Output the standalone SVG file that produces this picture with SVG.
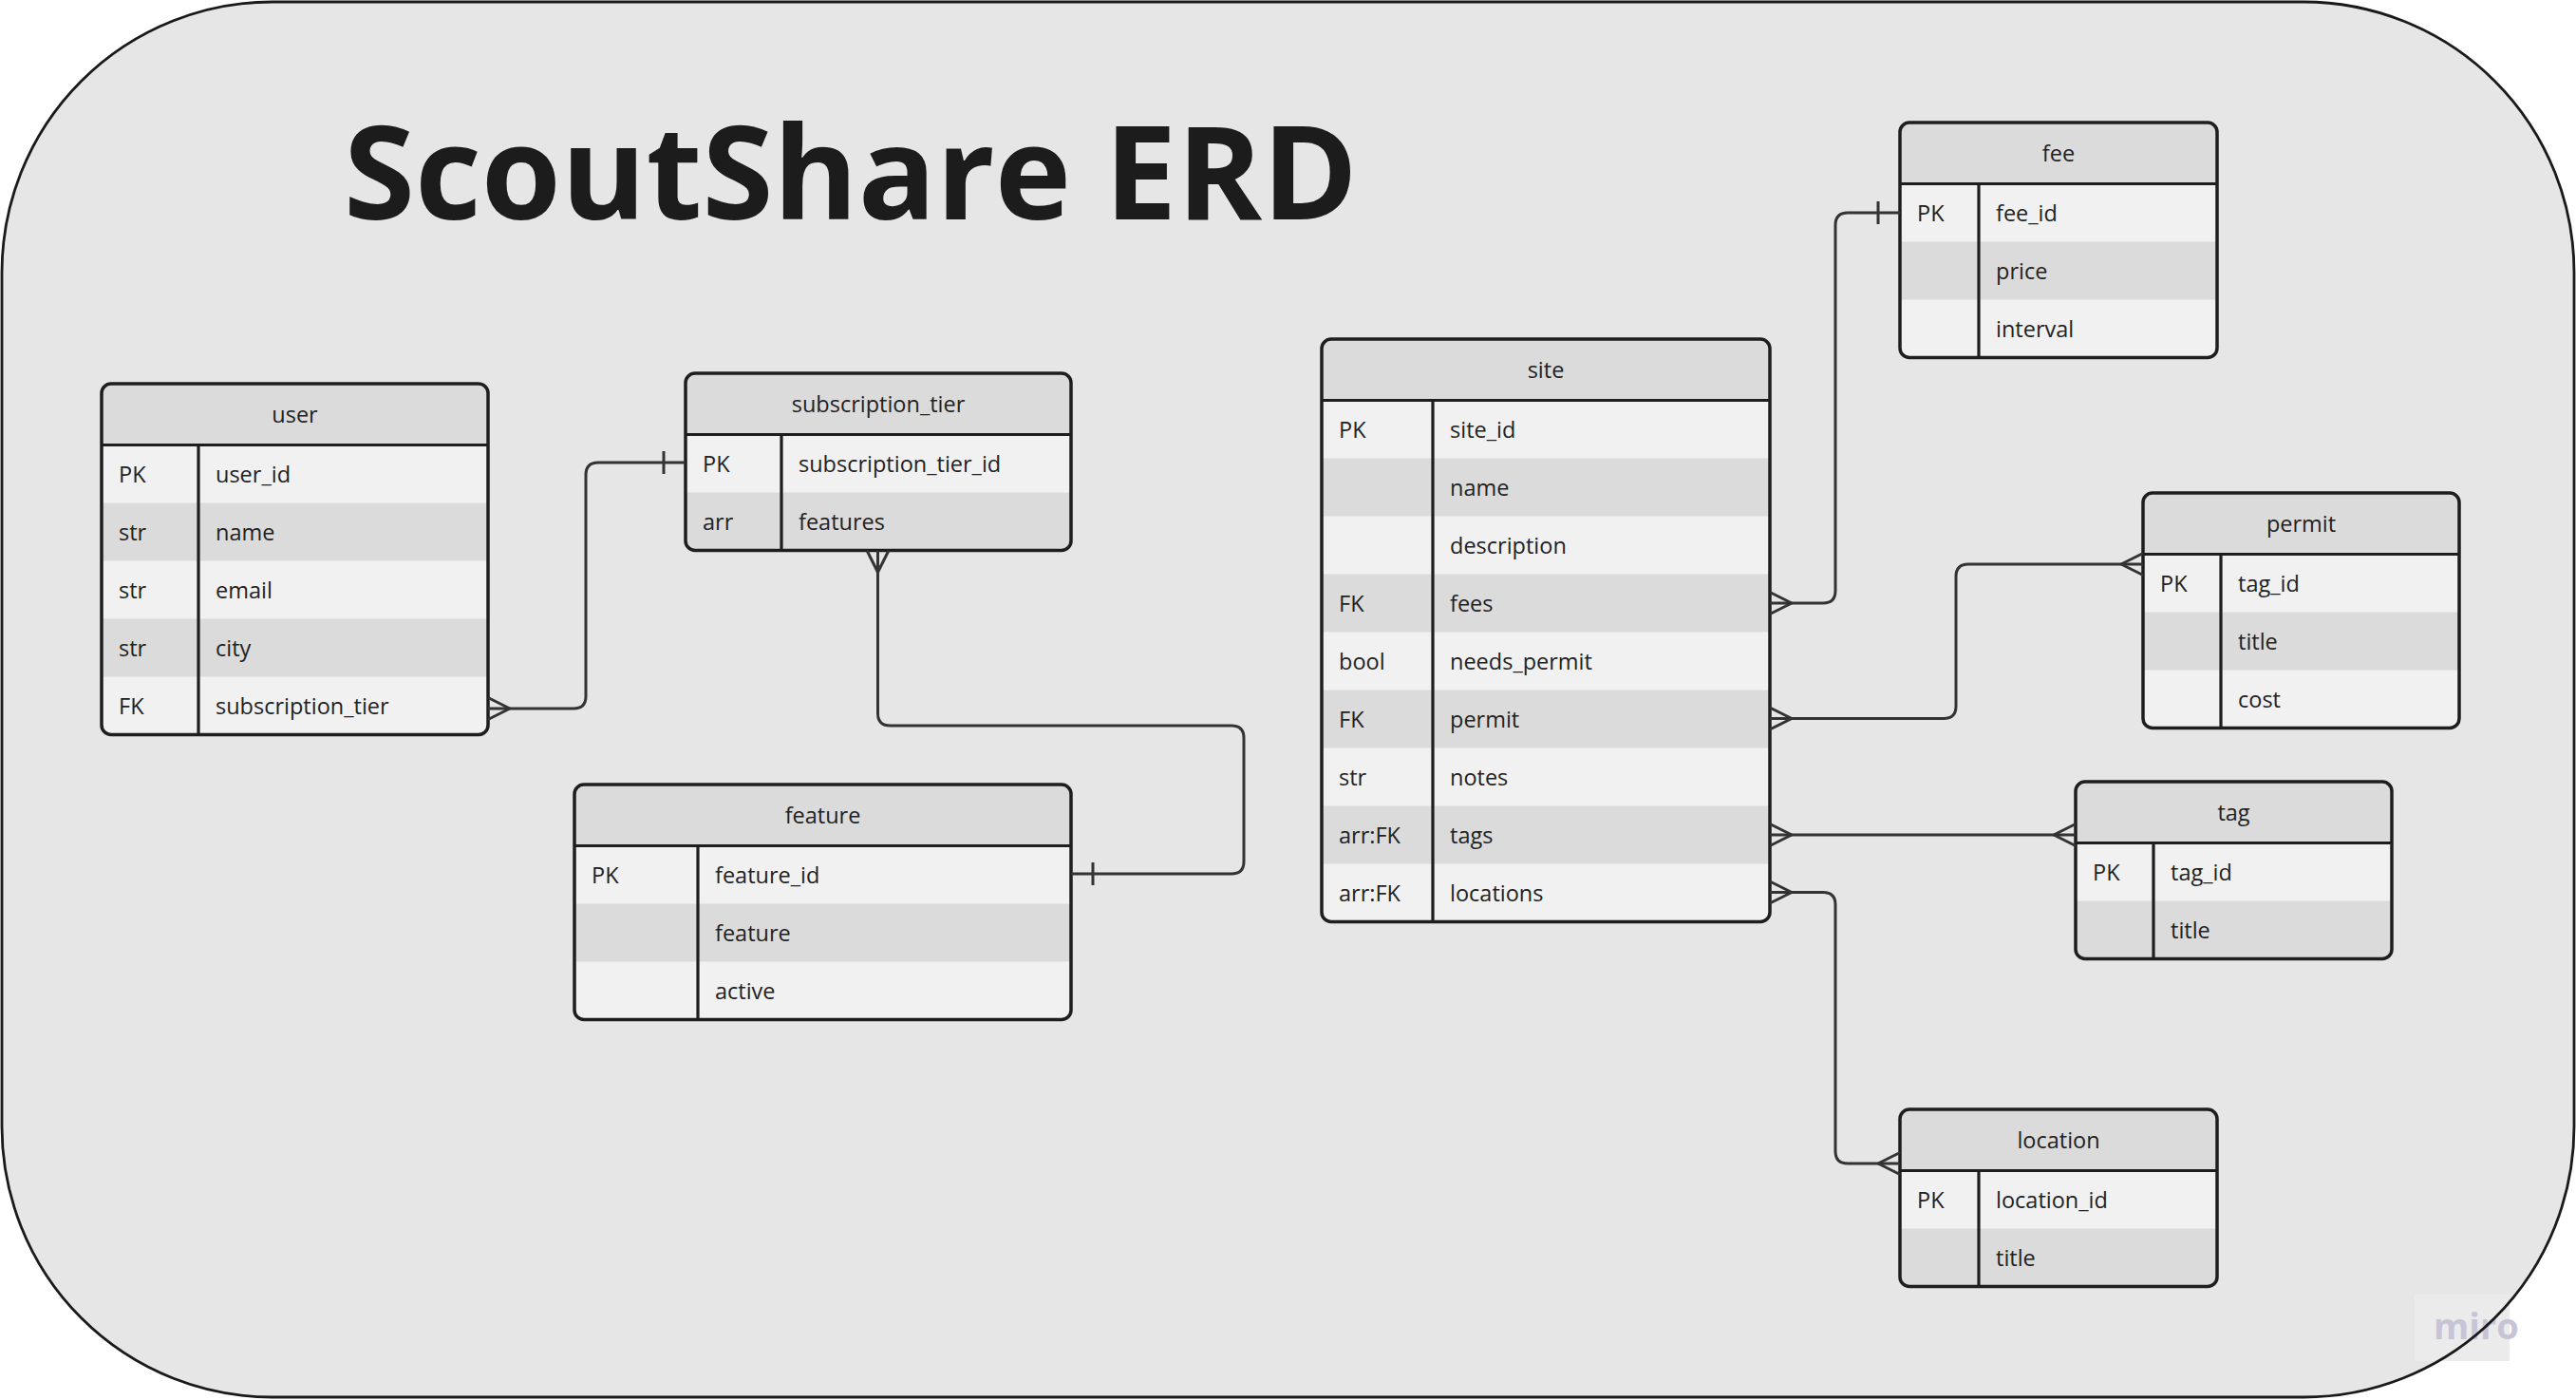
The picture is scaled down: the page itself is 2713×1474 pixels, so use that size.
<svg xmlns="http://www.w3.org/2000/svg" width="2713" height="1474" viewBox="0 0 2713 1474">
<style>
.lt{fill:#f1f1f1}
.hd,.dk{fill:#dbdbdb}
.ln{stroke:#1e1e1e;stroke-width:3.2;fill:none}
.edge{stroke:#1e1e1e;stroke-width:3.5;fill:none}
text{font-family:"Open Sans","DejaVu Sans",sans-serif;font-size:23.5px;fill:#222}
.h{text-anchor:middle}
.title{font-size:136px;font-weight:700;fill:#1c1c1c}
.conn path{stroke:#333;stroke-width:3;fill:none;stroke-linejoin:round}
</style>
<defs>
<marker id="many" markerUnits="userSpaceOnUse" orient="auto-start-reverse" viewBox="-30 -30 60 60" markerWidth="60" markerHeight="60" refX="0" refY="0" overflow="visible">
<path d="M-23,0 L0,-11.5 M-23,0 L0,11.5" fill="none" stroke="#333" stroke-width="3"/>
</marker>
<marker id="one" markerUnits="userSpaceOnUse" orient="auto-start-reverse" viewBox="-30 -30 60 60" markerWidth="60" markerHeight="60" refX="0" refY="0" overflow="visible">
<path d="M-23,-12 L-23,12" fill="none" stroke="#333" stroke-width="3"/>
</marker>
</defs>

<g id="frame">
<rect x="2" y="2" width="2709" height="1469" rx="285" ry="285" fill="#e6e6e6"/>
<rect x="2543" y="1363" width="100" height="70" fill="#ebebeb"/>
<text x="2563" y="1410" style="font-size:38px;font-weight:700;fill:#c6c4d6">miro</text>
<rect x="2" y="2" width="2709" height="1469" rx="285" ry="285" fill="none" stroke="#1a1a1a" stroke-width="2.8"/>
</g>

<text id="title" class="title" x="362" y="231">ScoutShare ERD</text>

<g id="user">
<rect class="lt" x="107" y="404" width="407" height="369.5" rx="10"/>
<path class="hd" d="M107,414 a10,10 0 0 1 10,-10 H504 a10,10 0 0 1 10,10 V468.5 H107 Z"/>
<rect class="dk" x="107" y="529.5" width="407" height="61"/>
<rect class="dk" x="107" y="651.5" width="407" height="61"/>
<line class="ln" x1="107" y1="468.5" x2="514" y2="468.5"/>
<line class="ln" x1="209" y1="468.5" x2="209" y2="773.5"/>
<rect class="edge" x="107" y="404" width="407" height="369.5" rx="10"/>
<text class="h" x="310.5" y="444.5">user</text>
<text x="125" y="507.5">PK</text><text x="227" y="507.5">user_id</text>
<text x="125" y="568.5">str</text><text x="227" y="568.5">name</text>
<text x="125" y="629.5">str</text><text x="227" y="629.5">email</text>
<text x="125" y="690.5">str</text><text x="227" y="690.5">city</text>
<text x="125" y="751.5">FK</text><text x="227" y="751.5">subscription_tier</text>
</g>

<g id="subscription_tier">
<rect class="lt" x="722" y="393" width="406" height="186.5" rx="10"/>
<path class="hd" d="M722,403 a10,10 0 0 1 10,-10 H1118 a10,10 0 0 1 10,10 V457.5 H722 Z"/>
<path class="dk" d="M722,518.5 H1128 V569.5 a10,10 0 0 1 -10,10 H732 a10,10 0 0 1 -10,-10 Z"/>
<line class="ln" x1="722" y1="457.5" x2="1128" y2="457.5"/>
<line class="ln" x1="823" y1="457.5" x2="823" y2="579.5"/>
<rect class="edge" x="722" y="393" width="406" height="186.5" rx="10"/>
<text class="h" x="925" y="433.5">subscription_tier</text>
<text x="740" y="496.5">PK</text><text x="841" y="496.5">subscription_tier_id</text>
<text x="740" y="557.5">arr</text><text x="841" y="557.5">features</text>
</g>

<g id="feature">
<rect class="lt" x="605" y="826" width="523" height="247.5" rx="10"/>
<path class="hd" d="M605,836 a10,10 0 0 1 10,-10 H1118 a10,10 0 0 1 10,10 V890.5 H605 Z"/>
<rect class="dk" x="605" y="951.5" width="523" height="61"/>
<line class="ln" x1="605" y1="890.5" x2="1128" y2="890.5"/>
<line class="ln" x1="735" y1="890.5" x2="735" y2="1073.5"/>
<rect class="edge" x="605" y="826" width="523" height="247.5" rx="10"/>
<text class="h" x="866.5" y="866.5">feature</text>
<text x="623" y="929.5">PK</text><text x="753" y="929.5">feature_id</text>
<text x="753" y="990.5">feature</text>
<text x="753" y="1051.5">active</text>
</g>

<g id="site">
<rect class="lt" x="1392" y="357" width="472" height="613.5" rx="10"/>
<path class="hd" d="M1392,367 a10,10 0 0 1 10,-10 H1854 a10,10 0 0 1 10,10 V421.5 H1392 Z"/>
<rect class="dk" x="1392" y="482.5" width="472" height="61"/>
<rect class="dk" x="1392" y="604.5" width="472" height="61"/>
<rect class="dk" x="1392" y="726.5" width="472" height="61"/>
<rect class="dk" x="1392" y="848.5" width="472" height="61"/>
<line class="ln" x1="1392" y1="421.5" x2="1864" y2="421.5"/>
<line class="ln" x1="1509" y1="421.5" x2="1509" y2="970.5"/>
<rect class="edge" x="1392" y="357" width="472" height="613.5" rx="10"/>
<text class="h" x="1628" y="397.5">site</text>
<text x="1410" y="460.5">PK</text><text x="1527" y="460.5">site_id</text>
<text x="1527" y="521.5">name</text>
<text x="1527" y="582.5">description</text>
<text x="1410" y="643.5">FK</text><text x="1527" y="643.5">fees</text>
<text x="1410" y="704.5">bool</text><text x="1527" y="704.5">needs_permit</text>
<text x="1410" y="765.5">FK</text><text x="1527" y="765.5">permit</text>
<text x="1410" y="826.5">str</text><text x="1527" y="826.5">notes</text>
<text x="1410" y="887.5">arr:FK</text><text x="1527" y="887.5">tags</text>
<text x="1410" y="948.5">arr:FK</text><text x="1527" y="948.5">locations</text>
</g>

<g id="fee">
<rect class="lt" x="2001" y="129" width="334" height="247.5" rx="10"/>
<path class="hd" d="M2001,139 a10,10 0 0 1 10,-10 H2325 a10,10 0 0 1 10,10 V193.5 H2001 Z"/>
<rect class="dk" x="2001" y="254.5" width="334" height="61"/>
<line class="ln" x1="2001" y1="193.5" x2="2335" y2="193.5"/>
<line class="ln" x1="2084" y1="193.5" x2="2084" y2="376.5"/>
<rect class="edge" x="2001" y="129" width="334" height="247.5" rx="10"/>
<text class="h" x="2168" y="169.5">fee</text>
<text x="2019" y="232.5">PK</text><text x="2102" y="232.5">fee_id</text>
<text x="2102" y="293.5">price</text>
<text x="2102" y="354.5">interval</text>
</g>

<g id="permit">
<rect class="lt" x="2257" y="519" width="333" height="247.5" rx="10"/>
<path class="hd" d="M2257,529 a10,10 0 0 1 10,-10 H2580 a10,10 0 0 1 10,10 V583.5 H2257 Z"/>
<rect class="dk" x="2257" y="644.5" width="333" height="61"/>
<line class="ln" x1="2257" y1="583.5" x2="2590" y2="583.5"/>
<line class="ln" x1="2339" y1="583.5" x2="2339" y2="766.5"/>
<rect class="edge" x="2257" y="519" width="333" height="247.5" rx="10"/>
<text class="h" x="2423.5" y="559.5">permit</text>
<text x="2275" y="622.5">PK</text><text x="2357" y="622.5">tag_id</text>
<text x="2357" y="683.5">title</text>
<text x="2357" y="744.5">cost</text>
</g>

<g id="tag">
<rect class="lt" x="2186" y="823" width="333" height="186.5" rx="10"/>
<path class="hd" d="M2186,833 a10,10 0 0 1 10,-10 H2509 a10,10 0 0 1 10,10 V887.5 H2186 Z"/>
<path class="dk" d="M2186,948.5 H2519 V999.5 a10,10 0 0 1 -10,10 H2196 a10,10 0 0 1 -10,-10 Z"/>
<line class="ln" x1="2186" y1="887.5" x2="2519" y2="887.5"/>
<line class="ln" x1="2268" y1="887.5" x2="2268" y2="1009.5"/>
<rect class="edge" x="2186" y="823" width="333" height="186.5" rx="10"/>
<text class="h" x="2352.5" y="863.5">tag</text>
<text x="2204" y="926.5">PK</text><text x="2286" y="926.5">tag_id</text>
<text x="2286" y="987.5">title</text>
</g>

<g id="location">
<rect class="lt" x="2001" y="1168" width="334" height="186.5" rx="10"/>
<path class="hd" d="M2001,1178 a10,10 0 0 1 10,-10 H2325 a10,10 0 0 1 10,10 V1232.5 H2001 Z"/>
<path class="dk" d="M2001,1293.5 H2335 V1344.5 a10,10 0 0 1 -10,10 H2011 a10,10 0 0 1 -10,-10 Z"/>
<line class="ln" x1="2001" y1="1232.5" x2="2335" y2="1232.5"/>
<line class="ln" x1="2084" y1="1232.5" x2="2084" y2="1354.5"/>
<rect class="edge" x="2001" y="1168" width="334" height="186.5" rx="10"/>
<text class="h" x="2168" y="1208.5">location</text>
<text x="2019" y="1271.5">PK</text><text x="2102" y="1271.5">location_id</text>
<text x="2102" y="1332.5">title</text>
</g>

<g id="connectors" class="conn">
<path d="M514,746 H604 Q617,746 617,733 V500 Q617,487 630,487 H722" marker-start="url(#many)" marker-end="url(#one)"/>
<path d="M924.5,579.5 V751 Q924.5,764 937.5,764 H1297 Q1310,764 1310,777 V907 Q1310,920 1297,920 H1128" marker-start="url(#many)" marker-end="url(#one)"/>
<path d="M1864,635 H1920 Q1933,635 1933,622 V237 Q1933,224 1946,224 H2001" marker-start="url(#many)" marker-end="url(#one)"/>
<path d="M1864,756.5 H2047 Q2060,756.5 2060,743.5 V607 Q2060,594 2073,594 H2257" marker-start="url(#many)" marker-end="url(#many)"/>
<path d="M1864,879 H2186" marker-start="url(#many)" marker-end="url(#many)"/>
<path d="M1864,939.5 H1920 Q1933,939.5 1933,952.5 V1212 Q1933,1225 1946,1225 H2001" marker-start="url(#many)" marker-end="url(#many)"/>
</g>
</svg>
